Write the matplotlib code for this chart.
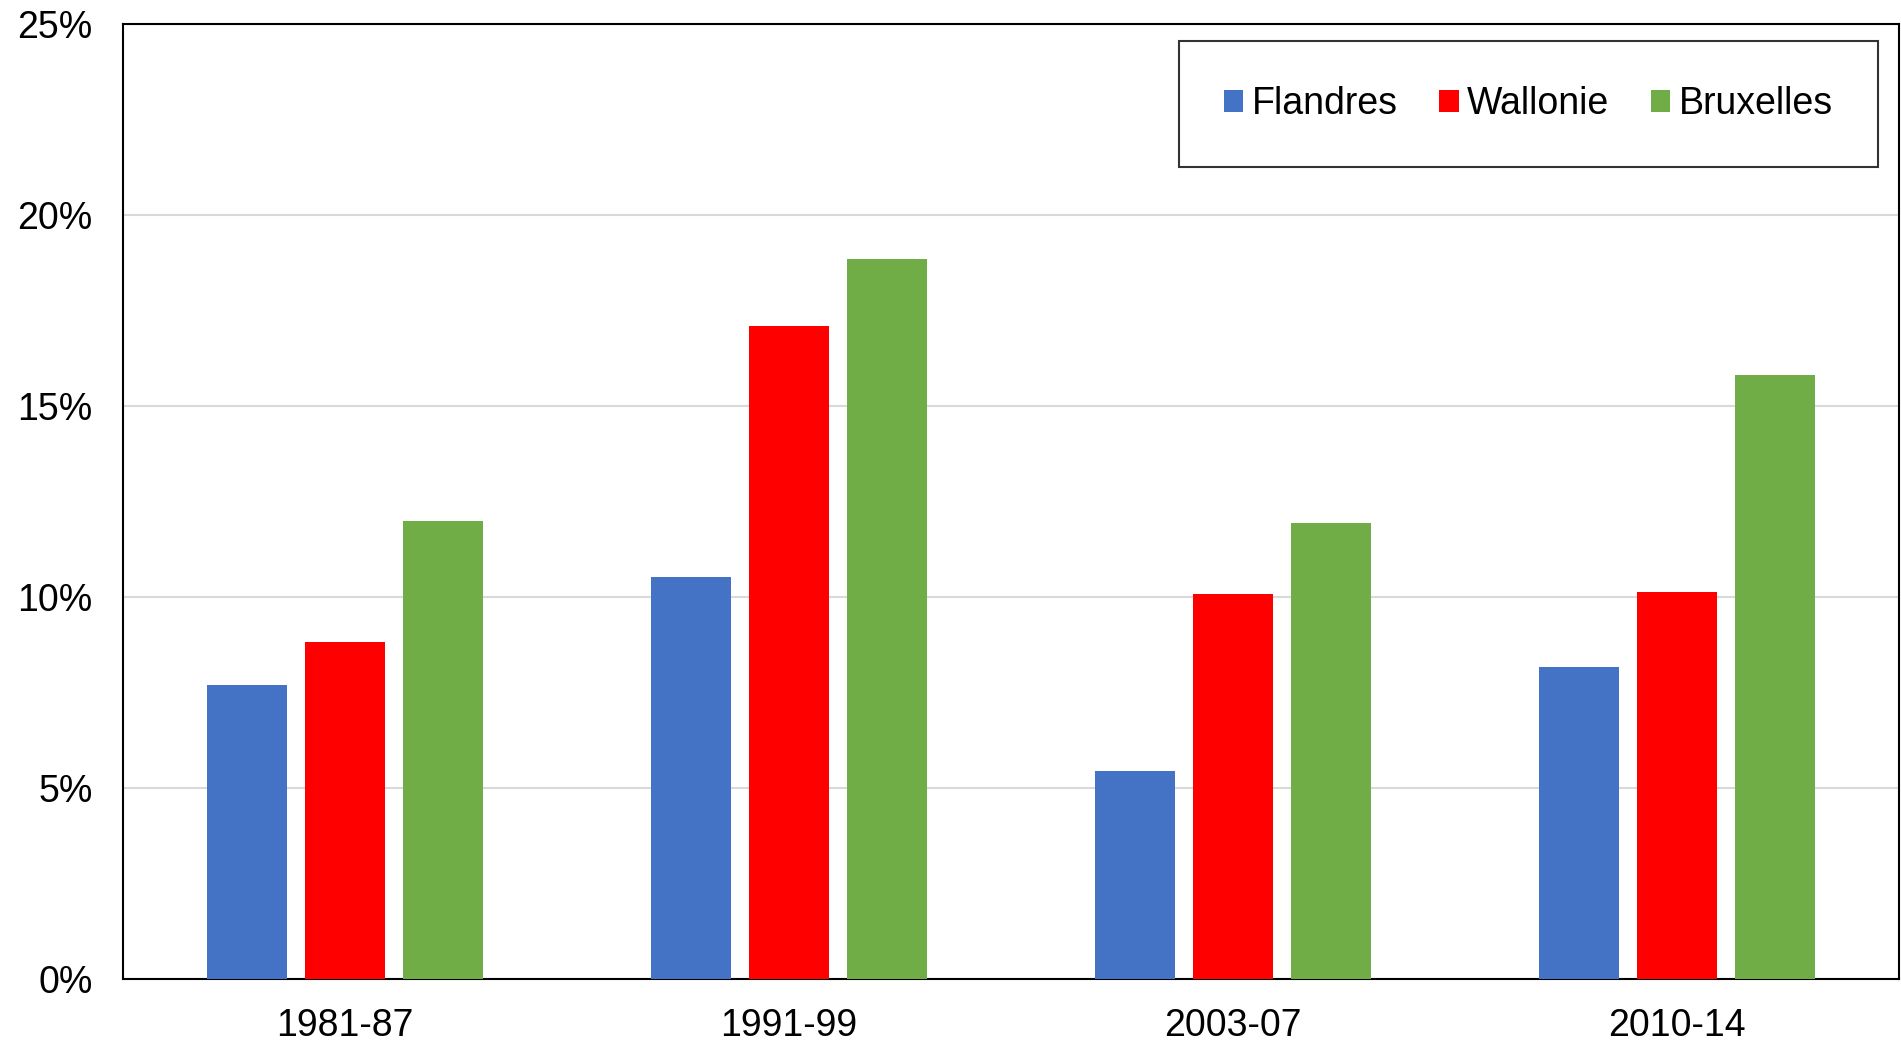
import matplotlib.pyplot as plt
import numpy as np
from matplotlib.patches import Patch
from matplotlib.ticker import FuncFormatter

plt.rcParams['font.family'] = ['Liberation Sans', 'DejaVu Sans']

periods = ["1981-87", "1991-99", "2003-07", "2010-14"]
regions = ["Flandres", "Wallonie", "Bruxelles"]
flandres = [7.7, 10.52, 5.44, 8.17]
wallonie = [8.82, 17.09, 10.08, 10.14]
bruxelles = [11.99, 18.84, 11.95, 15.82]
colors = ["#4472C4", "#FF0000", "#70AD47"]

fig = plt.figure(figsize=(19.01, 10.41), dpi=100)
ax = fig.add_axes([123 / 1901, 62 / 1041, 1776 / 1901, 955 / 1041])

x = np.arange(len(periods))
width = 0.18
step = 0.22
series = [flandres, wallonie, bruxelles]
for i, vals in enumerate(series):
    ax.bar(x + (i - 1) * step, vals, width, color=colors[i], zorder=3)

ax.set_xlim(-0.5, len(periods) - 0.5)
ax.set_ylim(0, 25)
ax.set_yticks([0, 5, 10, 15, 20, 25])
ax.yaxis.set_major_formatter(FuncFormatter(lambda v, p: f"{v:.0f}%"))
ax.set_xticks(x)
ax.set_xticklabels(periods)
ax.tick_params(axis='both', length=0, labelsize=27)
ax.tick_params(axis='y', pad=22)
ax.tick_params(axis='x', pad=21)
ax.grid(axis='y', color='#d9d9d9', linewidth=1.5, zorder=0)
for s in ax.spines.values():
    s.set_linewidth(1.5)
    s.set_color('black')

handles = [Patch(facecolor=c, label=r) for c, r in zip(colors, regions)]
leg = ax.legend(handles=handles, ncol=3, loc='upper right',
                bbox_to_anchor=(1878 / 1901, (1041 - 41) / 1041),
                bbox_transform=fig.transFigure,
                fontsize=27, handlelength=0.52, handleheight=0.52,
                handletextpad=0.23, columnspacing=1.1, borderpad=1.2,
                borderaxespad=0, fancybox=False, frameon=True)
leg.get_frame().set_edgecolor('black')
leg.get_frame().set_linewidth(1.5)

fig.savefig("out.png", dpi=100)
